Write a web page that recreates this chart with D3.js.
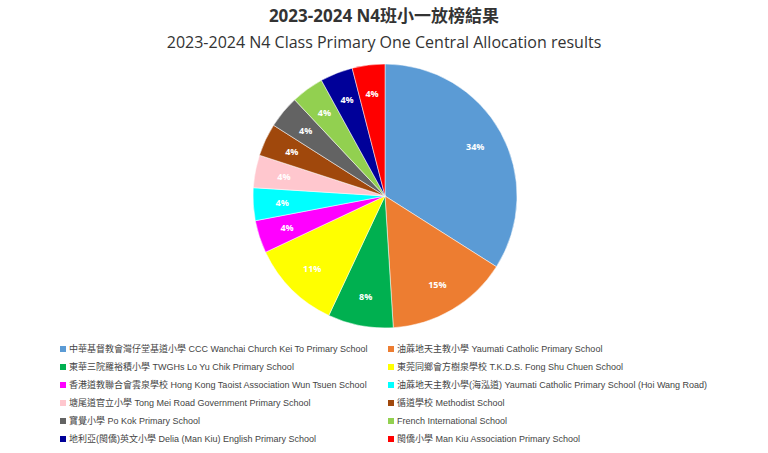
<!DOCTYPE html>
<html>
<head>
<meta charset="utf-8">
<script src="https://d3js.org/d3.v7.min.js"></script>
<style>
  body { margin: 0; background: #fff; font-family: "Open Sans", "Noto Sans CJK TC", sans-serif; }
</style>
</head>
<body>
<svg id="chart" width="768" height="453"></svg>
<script>
const schools = [
  "中華基督教會灣仔堂基道小學 CCC Wanchai Church Kei To Primary School",
  "油蔴地天主教小學 Yaumati Catholic Primary School",
  "東華三院羅裕積小學 TWGHs Lo Yu Chik Primary School",
  "東莞同鄉會方樹泉學校 T.K.D.S. Fong Shu Chuen School",
  "香港道教聯合會雲泉學校 Hong Kong Taoist Association Wun Tsuen School",
  "油蔴地天主教小學(海泓道) Yaumati Catholic Primary School (Hoi Wang Road)",
  "塘尾道官立小學 Tong Mei Road Government Primary School",
  "循道學校 Methodist School",
  "寶覺小學 Po Kok Primary School",
  "French International School",
  "地利亞(閩僑)英文小學 Delia (Man Kiu) English Primary School",
  "閩僑小學 Man Kiu Association Primary School"
];
const percents = [34, 15, 8, 11, 4, 4, 4, 4, 4, 4, 4, 4];
const colors = ["#5b9bd5", "#ed7d31", "#00b050", "#ffff00", "#ff00ff", "#00ffff",
                "#ffc7ce", "#a0480c", "#636363", "#92d050", "#000099", "#ff0000"];

const svg = d3.select("#chart");

svg.append("text").attr("x", 384).attr("y", 22).attr("text-anchor", "middle")
  .attr("font-size", 17).attr("font-weight", "bold").attr("fill", "#333")
  .text("2023-2024 N4班小一放榜結果");
svg.append("text").attr("x", 384).attr("y", 48).attr("text-anchor", "middle")
  .attr("font-size", 16).attr("fill", "#333")
  .text("2023-2024 N4 Class Primary One Central Allocation results");

const cx = 385, cy = 196, r = 132;
const pie = d3.pie().sort(null).value(d => d);
const arc = d3.arc().innerRadius(0).outerRadius(r);
const labelArc = d3.arc().innerRadius(r * 0.78).outerRadius(r * 0.78);
const g = svg.append("g").attr("transform", `translate(${cx},${cy})`);
const arcs = pie(percents);

g.selectAll("path").data(arcs).join("path")
  .attr("d", arc).attr("fill", (d, i) => colors[i])
  .attr("stroke", "#fff").attr("stroke-width", 0.5);

g.selectAll("text").data(arcs).join("text")
  .attr("transform", d => `translate(${labelArc.centroid(d)})`)
  .attr("text-anchor", "middle").attr("dy", "0.35em")
  .attr("font-size", 9).attr("font-weight", "bold").attr("fill", "#fff")
  .text(d => d.data + "%");

const legend = svg.append("g");
schools.forEach((s, i) => {
  const x = i % 2 === 0 ? 60 : 388;
  const y = 349 + Math.floor(i / 2) * 18;
  legend.append("rect").attr("x", x).attr("y", y - 3).attr("width", 6).attr("height", 6)
    .attr("fill", colors[i]);
  legend.append("text").attr("x", x + 9).attr("y", y).attr("dy", "0.35em")
    .attr("font-family", "'Liberation Sans', 'Noto Sans CJK TC', sans-serif")
    .attr("font-size", 9).attr("fill", "#444").text(s);
});
</script>
</body>
</html>
